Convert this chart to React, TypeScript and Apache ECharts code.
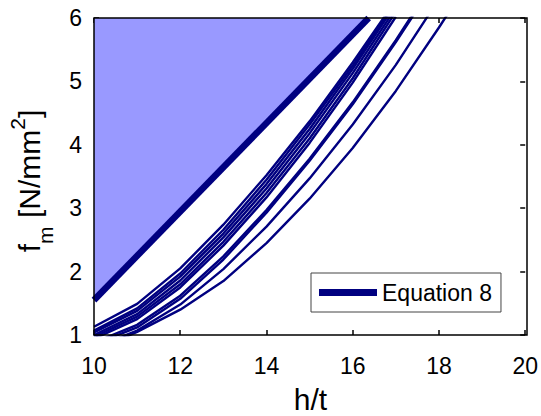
import React, { useEffect, useRef } from "react";
import * as echarts from "echarts";

// h/t sample positions
const hT = [10, 11, 12, 13, 14, 15, 16, 17, 18, 19];
// f_m curves (N/mm^2)
const fm1 = [1.13, 1.49, 2.05, 2.74, 3.52, 4.37, 5.3, 6.28];
const fm2 = [1.07, 1.42, 1.97, 2.66, 3.45, 4.32, 5.25, 6.25];
const fm3 = [1.04, 1.38, 1.92, 2.6, 3.38, 4.25, 5.2, 6.22];
const fm4 = [1.0, 1.33, 1.86, 2.54, 3.31, 4.18, 5.13, 6.16];
const fm5 = [0.97, 1.29, 1.8, 2.47, 3.24, 4.1, 5.05, 6.1];
const fm6 = [0.94, 1.25, 1.75, 2.41, 3.17, 4.03, 4.98, 6.02];
const fm7 = [0.88, 1.16, 1.62, 2.24, 2.97, 3.78, 4.67, 5.65, 6.7];
const fm8 = [0.85, 1.12, 1.57, 2.19, 2.93, 3.75, 4.64, 5.62, 6.66];
const fm9 = [0.8, 1.07, 1.48, 2.04, 2.71, 3.47, 4.32, 5.26, 6.3];
const fm10 = [0.75, 1.05, 1.4, 1.85, 2.45, 3.15, 3.95, 4.85, 5.85, 6.9];
const curves = [fm1, fm2, fm3, fm4, fm5, fm6, fm7, fm8, fm9, fm10];

// Equation 8 line
const eq8X = [10, 16.37];
const eq8Y = [1.55, 6.0];
const eq8Name = "Equation 8";

const xTicks = { min: 10, max: 20, interval: 2 };
const yTicks = { min: 1, max: 6, interval: 1 };

const NAVY = "#000080";
const FILL = "#9999FF";
const FONT = "Liberation Sans, Arial, sans-serif";

const GRID = { left: 94, top: 18, width: 433, height: 317 };

function measure(text: string, size: number): number {
  const c = document.createElement("canvas").getContext("2d");
  if (!c) return text.length * size * 0.55;
  c.font = `${size}px "Liberation Sans"`;
  return c.measureText(text).width;
}

export default function App() {
  const ref = useRef<HTMLDivElement>(null);
  useEffect(() => {
    if (!ref.current) return;
    const chart = echarts.init(ref.current, undefined, { renderer: "svg" });

    // y-axis label pieces (rotated)
    const main = 30;
    const small = 21;
    const pieces = [
      { t: "f", s: main, b: 0 },
      { t: "m", s: small, b: 13 },
      { t: " [N/mm", s: main, b: 0 },
      { t: "2", s: small, b: -15 },
      { t: "]", s: main, b: 0 },
    ];
    let acc = 0;
    const children: any[] = [];
    pieces.forEach((p) => {
      children.push({
        type: "text",
        x: acc,
        y: p.b - 0.3465 * p.s,
        style: {
          text: p.t,
          fontSize: p.s,
          fontFamily: FONT,
          fill: "#000",
          align: "left",
          verticalAlign: "middle",
        },
      });
      acc += measure(p.t, p.s);
    });
    const centerY = 181;

    const lineSeries = curves.map((c, i) => ({
      type: "line",
      name: "curve" + (i + 1),
      data: c.map((v, j) => [hT[j], v]),
      showSymbol: false,
      symbol: "none",
      lineStyle: { color: NAVY, width: 2.4 },
      itemStyle: { color: NAVY },
      z: 3,
    }));

    chart.setOption({
      animation: false,
      grid: { ...GRID, containLabel: false },
      xAxis: [
        {
          type: "value",
          ...xTicks,
          position: "bottom",
          axisLine: { show: false },
          axisTick: { inside: true, length: 5, lineStyle: { color: "#000", width: 1.5 } },
          axisLabel: { fontSize: 23, fontFamily: FONT, color: "#000", margin: 19 },
          splitLine: { show: false },
        },
        {
          type: "value",
          ...xTicks,
          position: "top",
          axisLine: { show: false },
          axisTick: { inside: true, length: 5, lineStyle: { color: "#000", width: 1.5 } },
          axisLabel: { show: false },
          splitLine: { show: false },
        },
      ],
      yAxis: [
        {
          type: "value",
          ...yTicks,
          position: "left",
          axisLine: { show: false },
          axisTick: { inside: true, length: 5, lineStyle: { color: "#000", width: 1.5 } },
          axisLabel: { fontSize: 23, fontFamily: FONT, color: "#000", margin: 12 },
          splitLine: { show: false },
        },
        {
          type: "value",
          ...yTicks,
          position: "right",
          axisLine: { show: false },
          axisTick: { inside: true, length: 5, lineStyle: { color: "#000", width: 1.5 } },
          axisLabel: { show: false },
          splitLine: { show: false },
        },
      ],
      legend: {
        data: [{ name: eq8Name, icon: "rect" }],
        left: 311,
        top: 273,
        itemWidth: 58,
        itemHeight: 7,
        itemGap: 0,
        padding: [8, 9, 8, 8],
        borderColor: "#444",
        borderWidth: 1,
        backgroundColor: "#fff",
        textStyle: { fontSize: 23, fontFamily: FONT, color: "#000" },
        z: 50,
      },
      series: [
        ...lineSeries,
        {
          type: "line",
          name: eq8Name,
          data: eq8X.map((x, i) => [x, eq8Y[i]]),
          showSymbol: false,
          symbol: "none",
          lineStyle: { color: NAVY, width: 6.5 },
          itemStyle: { color: NAVY },
          areaStyle: { origin: "end", color: FILL, opacity: 1 },
          z: 4,
        },
      ],
      graphic: [
        {
          type: "rect",
          shape: { x: GRID.left, y: GRID.top, width: GRID.width, height: GRID.height },
          style: { fill: "none", stroke: "#000", lineWidth: 1.5 },
          z: 100,
          silent: true,
        },
        {
          type: "text",
          x: GRID.left + GRID.width / 2,
          y: 399,
          style: {
            text: "h/t",
            fontSize: 30,
            fontFamily: FONT,
            fill: "#000",
            align: "center",
            verticalAlign: "middle",
          },
        },
        {
          type: "group",
          x: 40,
          y: centerY + acc / 2,
          rotation: Math.PI / 2,
          children,
        },
      ],
    });
    return () => chart.dispose();
  }, []);
  return (
    <div
      ref={ref}
      style={{ position: "absolute", left: 0, top: 0, width: 541, height: 416, background: "#fff" }}
    />
  );
}
